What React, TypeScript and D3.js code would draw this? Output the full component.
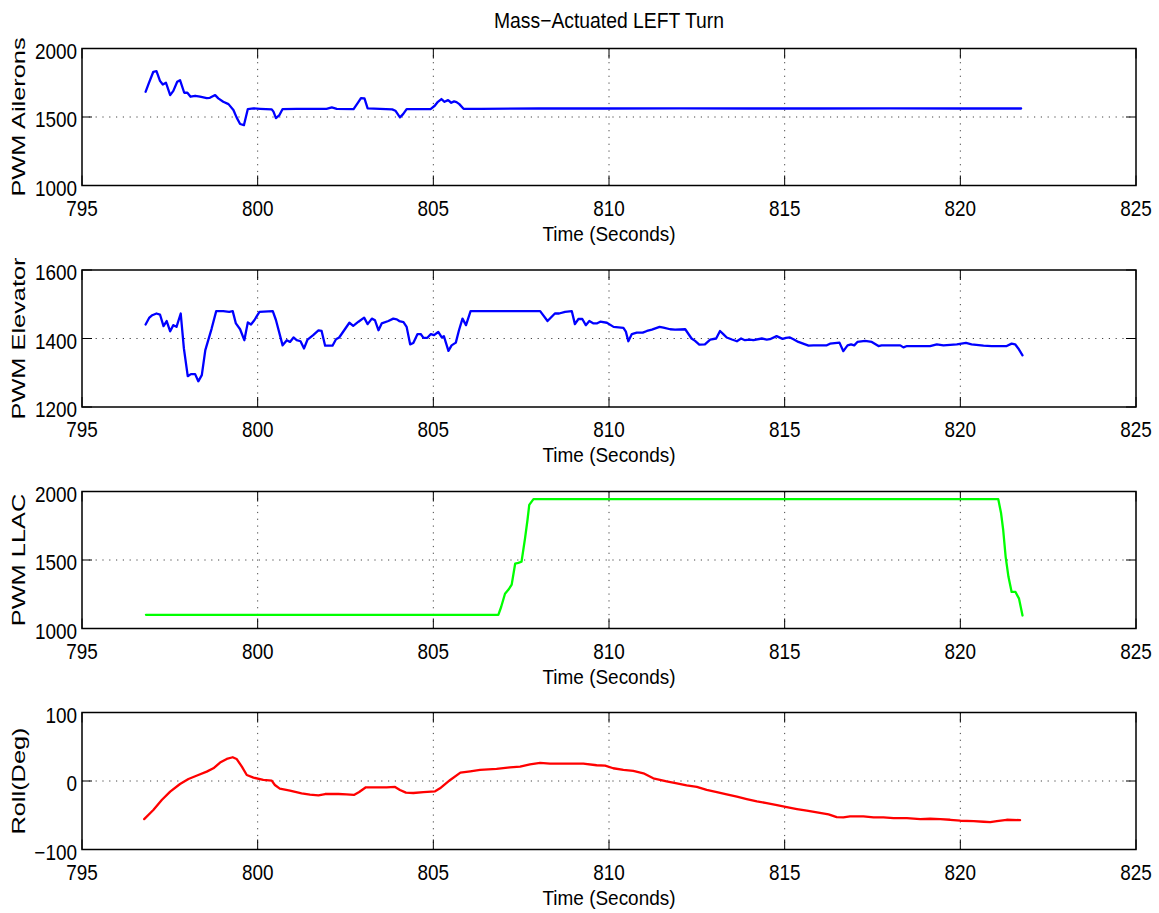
import React from "react";
import * as d3 from "d3";

const W = 1159;
const H = 913;
const LEFT = 82;
const RIGHT = 1136;
const PANEL_TOPS = [48.5, 270, 491.5, 712.5];
const AX_H = 137;
const FONT = "'Liberation Sans', Arial, Helvetica, sans-serif";

const chartTitle = "Mass\u2212Actuated LEFT Turn";
const timeLabel = "Time (Seconds)";
const timeTicks = [795, 800, 805, 810, 815, 820, 825];

// Aileron PWM command
const aileronTime = [
  796.81, 796.9, 797.03, 797.12, 797.22, 797.3, 797.39, 797.43, 797.51, 797.6, 797.71, 797.79,
  797.91, 798.0, 798.09, 798.22, 798.36, 798.55, 798.64, 798.79, 798.88, 799.02, 799.17, 799.31,
  799.4, 799.5, 799.61, 799.72, 799.88, 800.07, 800.4, 800.45, 800.52, 800.62, 800.71, 801.11,
  801.96, 802.11, 802.25, 802.73, 802.87, 802.94, 803.04, 803.13, 803.83, 803.92, 804.05, 804.14,
  804.24, 804.92, 805.04, 805.13, 805.23, 805.32, 805.42, 805.51, 805.59, 805.66, 805.74, 805.86,
  806.36, 808.0, 810.0, 812.0, 814.0, 816.0, 818.0, 820.0, 821.73,
];
const aileronPwm = [
  1684, 1745, 1830, 1835, 1764, 1737, 1750, 1720, 1660, 1691, 1757, 1769,
  1677, 1677, 1648, 1655, 1648, 1638, 1640, 1660, 1636, 1611, 1594, 1551,
  1497, 1449, 1441, 1558, 1563, 1560, 1556, 1539, 1492, 1514, 1558, 1560,
  1560, 1570, 1560, 1558, 1611, 1638, 1636, 1563, 1556, 1546, 1497, 1521,
  1558, 1558, 1582, 1611, 1631, 1611, 1623, 1604, 1614, 1609, 1594, 1560,
  1560, 1562, 1562, 1563, 1562, 1562, 1563, 1562, 1562,
];

// Elevator PWM command
const elevatorTime = [
  796.81, 796.91, 797.0, 797.12, 797.22, 797.32, 797.41, 797.51, 797.6, 797.69, 797.81, 797.9,
  798.01, 798.1, 798.22, 798.31, 798.41, 798.51, 798.69, 798.82, 799.02, 799.19, 799.29, 799.38,
  799.5, 799.62, 799.72, 799.81, 799.91, 800.05, 800.43, 800.52, 800.71, 800.83, 800.92, 801.02,
  801.11, 801.22, 801.32, 801.42, 801.58, 801.73, 801.82, 801.92, 802.13, 802.23, 802.32, 802.61,
  802.72, 802.87, 803.03, 803.13, 803.25, 803.34, 803.44, 803.53, 803.72, 803.86, 803.96, 804.03,
  804.15, 804.24, 804.34, 804.43, 804.55, 804.64, 804.72, 804.83, 804.93, 805.02, 805.14, 805.24,
  805.3, 805.43, 805.52, 805.64, 805.73, 805.83, 805.93, 806.06, 807.47, 808.04, 808.25, 808.46,
  808.58, 808.75, 808.94, 809.03, 809.13, 809.24, 809.34, 809.44, 809.56, 809.65, 809.75, 809.94,
  810.13, 810.41, 810.48, 810.55, 810.65, 810.79, 810.96, 811.08, 811.22, 811.44, 811.55, 811.74,
  811.88, 812.17, 812.35, 812.45, 812.57, 812.73, 812.88, 813.05, 813.16, 813.26, 813.35, 813.5,
  813.64, 813.76, 813.87, 814.01, 814.11, 814.35, 814.49, 814.58, 814.77, 814.94, 815.04, 815.15,
  815.25, 815.39, 815.68, 815.82, 816.2, 816.29, 816.56, 816.67, 816.79, 816.89, 816.98, 817.07,
  817.29, 817.48, 817.67, 817.76, 818.09, 818.29, 818.38, 818.48, 819.14, 819.33, 819.52, 819.9,
  820.16, 820.32, 820.66, 820.89, 821.32, 821.46, 821.56, 821.65, 821.77,
];
const elevatorPwm = [
  1441, 1460, 1468, 1473, 1470, 1436, 1451, 1421, 1439, 1434, 1473, 1371,
  1290, 1296, 1296, 1275, 1293, 1366, 1429, 1480, 1480, 1478, 1480, 1444,
  1427, 1395, 1447, 1441, 1454, 1478, 1480, 1454, 1380, 1395, 1390, 1403,
  1395, 1392, 1371, 1397, 1410, 1424, 1422, 1379, 1379, 1398, 1403, 1446,
  1437, 1449, 1461, 1442, 1458, 1453, 1424, 1444, 1451, 1458, 1456, 1451,
  1448, 1434, 1383, 1387, 1413, 1413, 1402, 1402, 1413, 1410, 1419, 1403,
  1407, 1364, 1380, 1388, 1424, 1458, 1439, 1480, 1480, 1480, 1451, 1473,
  1473, 1478, 1480, 1442, 1457, 1457, 1439, 1451, 1444, 1444, 1449, 1446,
  1434, 1431, 1420, 1392, 1413, 1417, 1417, 1422, 1426, 1434, 1432, 1427,
  1426, 1427, 1400, 1393, 1382, 1383, 1397, 1400, 1422, 1412, 1403, 1397,
  1392, 1400, 1395, 1397, 1395, 1400, 1397, 1398, 1407, 1399, 1402, 1403,
  1398, 1390, 1379, 1380, 1380, 1385, 1388, 1363, 1380, 1383, 1380, 1390,
  1393, 1390, 1378, 1380, 1380, 1380, 1374, 1378, 1378, 1383, 1380, 1383,
  1387, 1383, 1379, 1378, 1378, 1385, 1383, 1371, 1351,
];

// Left-lateral actuator PWM
const llacTime = [
  796.82, 799.0, 801.0, 803.0, 805.0, 806.85, 806.93, 807.04, 807.14, 807.23, 807.33, 807.42,
  807.51, 807.61, 807.68, 807.73, 807.85, 810.0, 813.0, 816.0, 819.0, 821.08, 821.16, 821.22,
  821.29, 821.37, 821.46, 821.57, 821.67, 821.77,
];
const llacPwm = [
  1100, 1099, 1100, 1100, 1100, 1100, 1157, 1254, 1284, 1320, 1474, 1479,
  1487, 1658, 1792, 1902, 1944, 1944, 1944, 1944, 1944, 1944, 1841, 1719,
  1523, 1377, 1267, 1267, 1218, 1095,
];

// Roll angle in degrees
const rollTime = [
  796.77, 797.03, 797.27, 797.51, 797.79, 798.03, 798.31, 798.55, 798.74, 798.93, 799.12, 799.29,
  799.4, 799.55, 799.69, 799.88, 800.16, 800.4, 800.49, 800.63, 800.92, 801.25, 801.49, 801.73,
  801.92, 802.3, 802.53, 802.74, 802.89, 803.08, 803.29, 803.67, 803.91, 804.05, 804.22, 804.43,
  804.72, 805.05, 805.19, 805.48, 805.77, 806.05, 806.33, 806.8, 807.18, 807.47, 807.75, 808.04,
  808.32, 808.79, 809.27, 809.65, 809.89, 810.12, 810.41, 810.69, 810.98, 811.26, 811.64, 811.93,
  812.21, 812.5, 812.78, 813.07, 813.35, 813.64, 813.92, 814.21, 814.49, 814.78, 815.06, 815.35,
  815.63, 815.92, 816.25, 816.48, 816.67, 816.86, 817.24, 817.53, 817.81, 818.1, 818.48, 818.86,
  819.14, 819.43, 819.71, 820.0, 820.38, 820.66, 820.85, 821.04, 821.32, 821.7,
];
const rollDeg = [
  -55.6, -42.4, -27.8, -15.6, -4.4, 3.0, 8.8, 13.7, 18.6, 26.9, 32.2, 34.7,
  32.2, 21.0, 8.8, 4.9, 1.5, 0.5, -5.8, -11.2, -14.1, -18.0, -20.0, -20.9,
  -19.0, -19.0, -19.5, -20.4, -16.1, -9.2, -9.2, -9.2, -8.7, -13.1, -17.0, -17.5,
  -16.1, -15.1, -10.7, 1.5, 12.2, 14.2, 16.1, 17.6, 20.0, 21.0, 24.4, 26.4,
  25.4, 25.4, 25.4, 23.0, 22.5, 18.6, 16.1, 14.7, 11.3, 3.9, -0.5, -3.4,
  -6.3, -8.7, -13.1, -16.1, -19.5, -22.9, -26.3, -29.7, -32.2, -35.1, -38.0, -40.9,
  -43.4, -45.8, -48.8, -52.7, -53.2, -51.7, -51.7, -53.2, -53.2, -54.1, -54.1, -55.6,
  -55.1, -55.6, -56.6, -58.0, -58.5, -59.5, -60.0, -58.5, -56.6, -57.1,
];

const aileronTicks = [1000, 1500, 2000];
const elevatorTicks = [1200, 1400, 1600];
const llacTicks = [1000, 1500, 2000];
const rollTicks = [-100, 0, 100];

const panels = [
  { label: "PWM Ailerons", t: aileronTime, v: aileronPwm, ticks: aileronTicks, color: "#0000ff" },
  { label: "PWM Elevator", t: elevatorTime, v: elevatorPwm, ticks: elevatorTicks, color: "#0000ff" },
  { label: "PWM LLAC", t: llacTime, v: llacPwm, ticks: llacTicks, color: "#00ff00" },
  { label: "Roll(Deg)", t: rollTime, v: rollDeg, ticks: rollTicks, color: "#ff0000" },
];

const fmt = (n: number) => (n < 0 ? "\u2212" + Math.abs(n) : String(n));

// Condensed label text: taller glyphs squeezed horizontally
const TICK_FS = 21.5;
const SQUEEZE = 0.88;

function Panel({ p, top }: { p: (typeof panels)[number]; top: number }) {
  const x = d3.scaleLinear().domain([795, 825]).range([LEFT, RIGHT]);
  const y = d3
    .scaleLinear()
    .domain([p.ticks[0], p.ticks[p.ticks.length - 1]])
    .range([AX_H, 0]);
  const pts: [number, number][] = p.t.map((t, i) => [t, p.v[i]]);
  const line = d3
    .line<[number, number]>()
    .x((d) => x(d[0]))
    .y((d) => y(d[1]));
  const innerX = timeTicks.slice(1, -1);
  const innerY = p.ticks.slice(1, -1);
  const tickLen = 10;
  return (
    <g transform={`translate(0,${top})`}>
      {/* dotted grid */}
      {innerX.map((t) => (
        <line key={"gx" + t} x1={x(t)} x2={x(t)} y1={0} y2={AX_H} stroke="#444" strokeWidth={1} strokeDasharray="1.2,5.6" />
      ))}
      {innerY.map((v) => (
        <line key={"gy" + v} x1={LEFT} x2={RIGHT} y1={y(v)} y2={y(v)} stroke="#444" strokeWidth={1} strokeDasharray="1.2,5.6" />
      ))}
      {/* tick marks */}
      {timeTicks.map((t) => (
        <g key={"tx" + t}>
          <line x1={x(t)} x2={x(t)} y1={AX_H} y2={AX_H - tickLen} stroke="#000" strokeWidth={1} />
          <line x1={x(t)} x2={x(t)} y1={0} y2={tickLen} stroke="#000" strokeWidth={1} />
        </g>
      ))}
      {p.ticks.map((v) => (
        <g key={"ty" + v}>
          <line x1={LEFT} x2={LEFT + tickLen} y1={y(v)} y2={y(v)} stroke="#000" strokeWidth={1} />
          <line x1={RIGHT - tickLen} x2={RIGHT} y1={y(v)} y2={y(v)} stroke="#000" strokeWidth={1} />
        </g>
      ))}
      {/* data */}
      <path d={line(pts) ?? ""} fill="none" stroke={p.color} strokeWidth={2.3} strokeLinejoin="round" strokeLinecap="round" />
      {/* frame */}
      <rect x={LEFT} y={0} width={RIGHT - LEFT} height={AX_H} fill="none" stroke="#000" strokeWidth={1.5} />
      {/* tick labels */}
      {timeTicks.map((t) => (
        <text
          key={"lx" + t}
          transform={`translate(${x(t)},${AX_H + 30}) scale(${SQUEEZE},1)`}
          textAnchor="middle"
          fontSize={TICK_FS}
          fontFamily={FONT}
          fill="#000"
        >
          {t}
        </text>
      ))}
      {p.ticks.map((v) => (
        <text
          key={"ly" + v}
          transform={`translate(${LEFT - 5},${y(v) + 3}) scale(${SQUEEZE},1)`}
          textAnchor="end"
          dominantBaseline="central"
          fontSize={TICK_FS}
          fontFamily={FONT}
          fill="#000"
        >
          {fmt(v)}
        </text>
      ))}
      <text x={(LEFT + RIGHT) / 2} y={AX_H + 55} textAnchor="middle" fontSize={21} fontFamily={FONT} fill="#000" textLength={133} lengthAdjust="spacingAndGlyphs">
        {timeLabel}
      </text>
      <text transform={`translate(25,${AX_H / 2}) rotate(-90) scale(1.45,1)`} textAnchor="middle" fontSize={17.5} fontFamily={FONT} fill="#000">
        {p.label}
      </text>
    </g>
  );
}

export default function App() {
  return (
    <div style={{ position: "absolute", left: 0, top: 0 }}>
      <svg width={W} height={H} viewBox={`0 0 ${W} ${H}`} style={{ display: "block", background: "#fff" }}>
        <rect width={W} height={H} fill="#fff" />
        <text x={(LEFT + RIGHT) / 2} y={28} textAnchor="middle" fontSize={22} fontFamily={FONT} fill="#000" textLength={230} lengthAdjust="spacingAndGlyphs">
          {chartTitle}
        </text>
        {panels.map((p, i) => (
          <Panel key={p.label} p={p} top={PANEL_TOPS[i]} />
        ))}
      </svg>
    </div>
  );
}
